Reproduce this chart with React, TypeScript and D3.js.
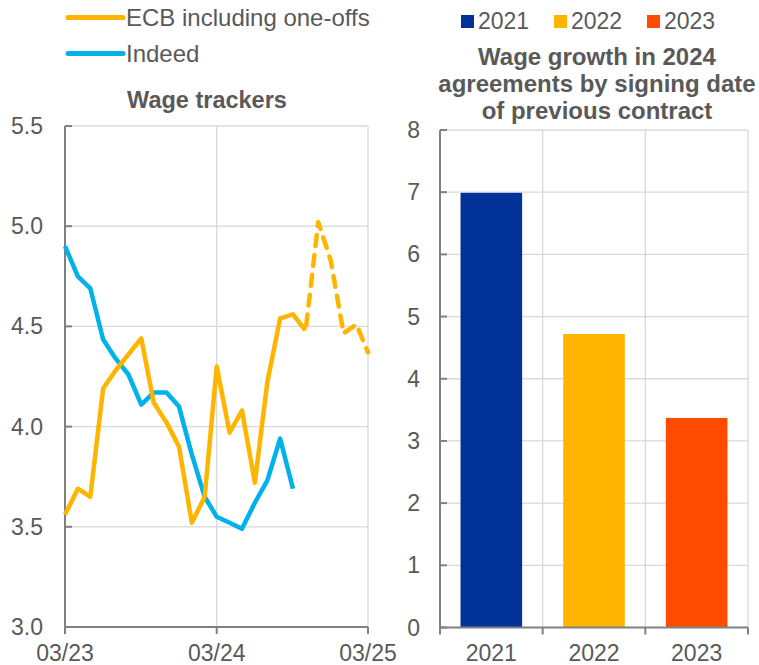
import React from "react";
import * as d3 from "d3";

// ---------- data ----------
const startMonth = new Date(2023, 2, 1); // 03/23
const ecbSolid: number[] = [3.56, 3.69, 3.65, 4.19, 4.28, 4.36, 4.44, 4.12, 4.02, 3.9, 3.52, 3.65, 4.3, 3.97, 4.08, 3.72, 4.22, 4.54, 4.56, 4.48];
const ecbDashedStart = 19;
const ecbDashed: number[] = [4.47, 5.02, 4.83, 4.465, 4.51, 4.37];
const indeed: number[] = [4.9, 4.75, 4.69, 4.435, 4.34, 4.26, 4.11, 4.17, 4.17, 4.1, 3.86, 3.65, 3.55, 3.52, 3.49, 3.62, 3.73, 3.94, 3.69];
const leftYTicks: number[] = [3.0, 3.5, 4.0, 4.5, 5.0, 5.5];
const leftXTickLabels: string[] = ["03/23", "03/24", "03/25"];
const leftXTickDates: Date[] = [new Date(2023, 2, 1), new Date(2024, 2, 1), new Date(2025, 2, 1)];

const barCategories: string[] = ["2021", "2022", "2023"];
const barValues: number[] = [6.99, 4.72, 3.37];
const barColors: string[] = ["#003299", "#FFB400", "#FF4B00"];
const rightYTicks: number[] = [0, 1, 2, 3, 4, 5, 6, 7, 8];

const seriesNames: string[] = ["ECB including one-offs", "Indeed"];
const seriesColors: string[] = ["#FFB400", "#00B1EA"];
const rightTitle: string[] = ["Wage growth in 2024", "agreements by signing date", "of previous contract"];

const FONT = "'Liberation Sans', Arial, sans-serif";
const TEXT = "#595959";
const AXIS = "#808080";
const GRID = "#D9D9D9";

const monthDate = (i: number) => new Date(startMonth.getFullYear(), startMonth.getMonth() + i, 1);

export default function App() {
  // left chart scales
  const xL = d3.scaleTime().domain([new Date(2023, 2, 1), new Date(2025, 2, 1)]).range([65, 368]);
  const yL = d3.scaleLinear().domain([3.0, 5.5]).range([627, 126]);
  const line = d3
    .line<[Date, number]>()
    .x((d) => xL(d[0]))
    .y((d) => yL(d[1]));

  const ecbSolidPts: [Date, number][] = ecbSolid.map((v, i) => [monthDate(i), v]);
  const ecbDashedPts: [Date, number][] = ecbDashed.map((v, i) => [monthDate(ecbDashedStart + i), v]);
  const indeedPts: [Date, number][] = indeed.map((v, i) => [monthDate(i), v]);

  // right chart scales
  const xR = d3.scaleBand<string>().domain(barCategories).range([440, 748]).paddingInner(0.4).paddingOuter(0.2);
  const xRfull = d3.scaleBand<string>().domain(barCategories).range([440, 748]);
  const yR = d3.scaleLinear().domain([0, 8]).range([627.5, 130]);

  return (
    <svg
      width={759}
      height={665}
      style={{ position: "absolute", left: 0, top: 0, background: "#fff" }}
      fontFamily={FONT}
    >
      {/* ---------- left legend ---------- */}
      {seriesNames.map((name, i) => (
        <g key={name}>
          <line x1={68} x2={123} y1={17.5 + i * 36} y2={17.5 + i * 36} stroke={seriesColors[i]} strokeWidth={5} strokeLinecap="round" />
          <text x={126} y={25.5 + i * 36} fontSize={24} fill={TEXT}>
            {name}
          </text>
        </g>
      ))}

      {/* ---------- left title ---------- */}
      <text x={207} y={108} textAnchor="middle" fontSize={23.5} fontWeight="bold" fill={TEXT}>
        Wage trackers
      </text>

      {/* ---------- left grid ---------- */}
      {leftYTicks
        .filter((t) => t > 3.0)
        .map((t) => (
          <line key={"gl" + t} x1={65} x2={368} y1={yL(t)} y2={yL(t)} stroke={GRID} strokeWidth={1.3} />
        ))}
      {leftXTickDates.slice(1).map((d, i) => (
        <line key={"gv" + i} x1={xL(d)} x2={xL(d)} y1={yL(5.5)} y2={yL(3.0)} stroke={GRID} strokeWidth={1.3} />
      ))}

      {/* left axes */}
      <line x1={65} x2={65} y1={yL(5.5)} y2={yL(3.0)} stroke={AXIS} strokeWidth={2} />
      <line x1={65} x2={368} y1={yL(3.0)} y2={yL(3.0)} stroke={AXIS} strokeWidth={2} />
      {leftYTicks.map((t) => (
        <g key={"yt" + t}>
          <line x1={65} x2={72} y1={yL(t)} y2={yL(t)} stroke={AXIS} strokeWidth={2} />
          <text x={43} y={yL(t) + 8} textAnchor="end" fontSize={23} fill={TEXT}>
            {t.toFixed(1)}
          </text>
        </g>
      ))}
      {leftXTickDates.map((d, i) => (
        <g key={"xt" + i}>
          <line x1={xL(d)} x2={xL(d)} y1={yL(3.0)} y2={yL(3.0) + 7} stroke={AXIS} strokeWidth={2} />
          <text x={xL(d)} y={661} textAnchor="middle" fontSize={23} fill={TEXT}>
            {leftXTickLabels[i]}
          </text>
        </g>
      ))}

      {/* left lines */}
      <path d={line(indeedPts) || ""} fill="none" stroke={seriesColors[1]} strokeWidth={4.5} strokeLinejoin="round" />
      <path d={line(ecbSolidPts) || ""} fill="none" stroke={seriesColors[0]} strokeWidth={4.5} strokeLinejoin="round" />
      <path
        d={line(ecbDashedPts) || ""}
        fill="none"
        stroke={seriesColors[0]}
        strokeWidth={4.5}
        strokeLinejoin="round"
        strokeLinecap="round"
        strokeDasharray="11 9"
        strokeDashoffset={-7}
      />

      {/* ---------- right legend ---------- */}
      {barCategories.map((c, i) => (
        <g key={"lg" + c}>
          <rect x={461 + i * 93} y={15} width={13} height={13} fill={barColors[i]} />
          <text x={478 + i * 93} y={29} fontSize={23} fill={TEXT}>
            {c}
          </text>
        </g>
      ))}

      {/* right title */}
      {rightTitle.map((t, i) => (
        <text key={"rt" + i} x={597} y={65 + i * 27} textAnchor="middle" fontSize={24} fontWeight="bold" fill={TEXT}>
          {t}
        </text>
      ))}

      {/* right grid */}
      {rightYTicks
        .filter((t) => t > 0)
        .map((t) => (
          <line key={"rg" + t} x1={440} x2={748} y1={yR(t)} y2={yR(t)} stroke={GRID} strokeWidth={1.3} />
        ))}
      {barCategories.map((c) => (
        <line
          key={"rv" + c}
          x1={(xRfull(c) || 0) + xRfull.bandwidth()}
          x2={(xRfull(c) || 0) + xRfull.bandwidth()}
          y1={yR(8)}
          y2={yR(0)}
          stroke={GRID}
          strokeWidth={1.3}
        />
      ))}

      {/* bars */}
      {barCategories.map((c, i) => (
        <rect key={"b" + c} x={xR(c)} y={yR(barValues[i])} width={xR.bandwidth()} height={yR(0) - yR(barValues[i])} fill={barColors[i]} />
      ))}

      {/* right axes */}
      <line x1={440} x2={440} y1={yR(8)} y2={yR(0)} stroke={AXIS} strokeWidth={2} />
      <line x1={440} x2={748} y1={yR(0)} y2={yR(0)} stroke={AXIS} strokeWidth={2} />
      {rightYTicks.map((t) => (
        <g key={"ryt" + t}>
          <line x1={440} x2={447} y1={yR(t)} y2={yR(t)} stroke={AXIS} strokeWidth={2} />
          <text x={420} y={yR(t) + 8} textAnchor="end" fontSize={23} fill={TEXT}>
            {t}
          </text>
        </g>
      ))}
      {[440, ...barCategories.map((c) => (xRfull(c) || 0) + xRfull.bandwidth())].map((x, i) => (
        <line key={"rxt" + i} x1={x} x2={x} y1={yR(0)} y2={yR(0) + 7} stroke={AXIS} strokeWidth={2} />
      ))}
      {barCategories.map((c) => (
        <text key={"rxl" + c} x={(xRfull(c) || 0) + xRfull.bandwidth() / 2} y={661} textAnchor="middle" fontSize={23} fill={TEXT}>
          {c}
        </text>
      ))}
    </svg>
  );
}
